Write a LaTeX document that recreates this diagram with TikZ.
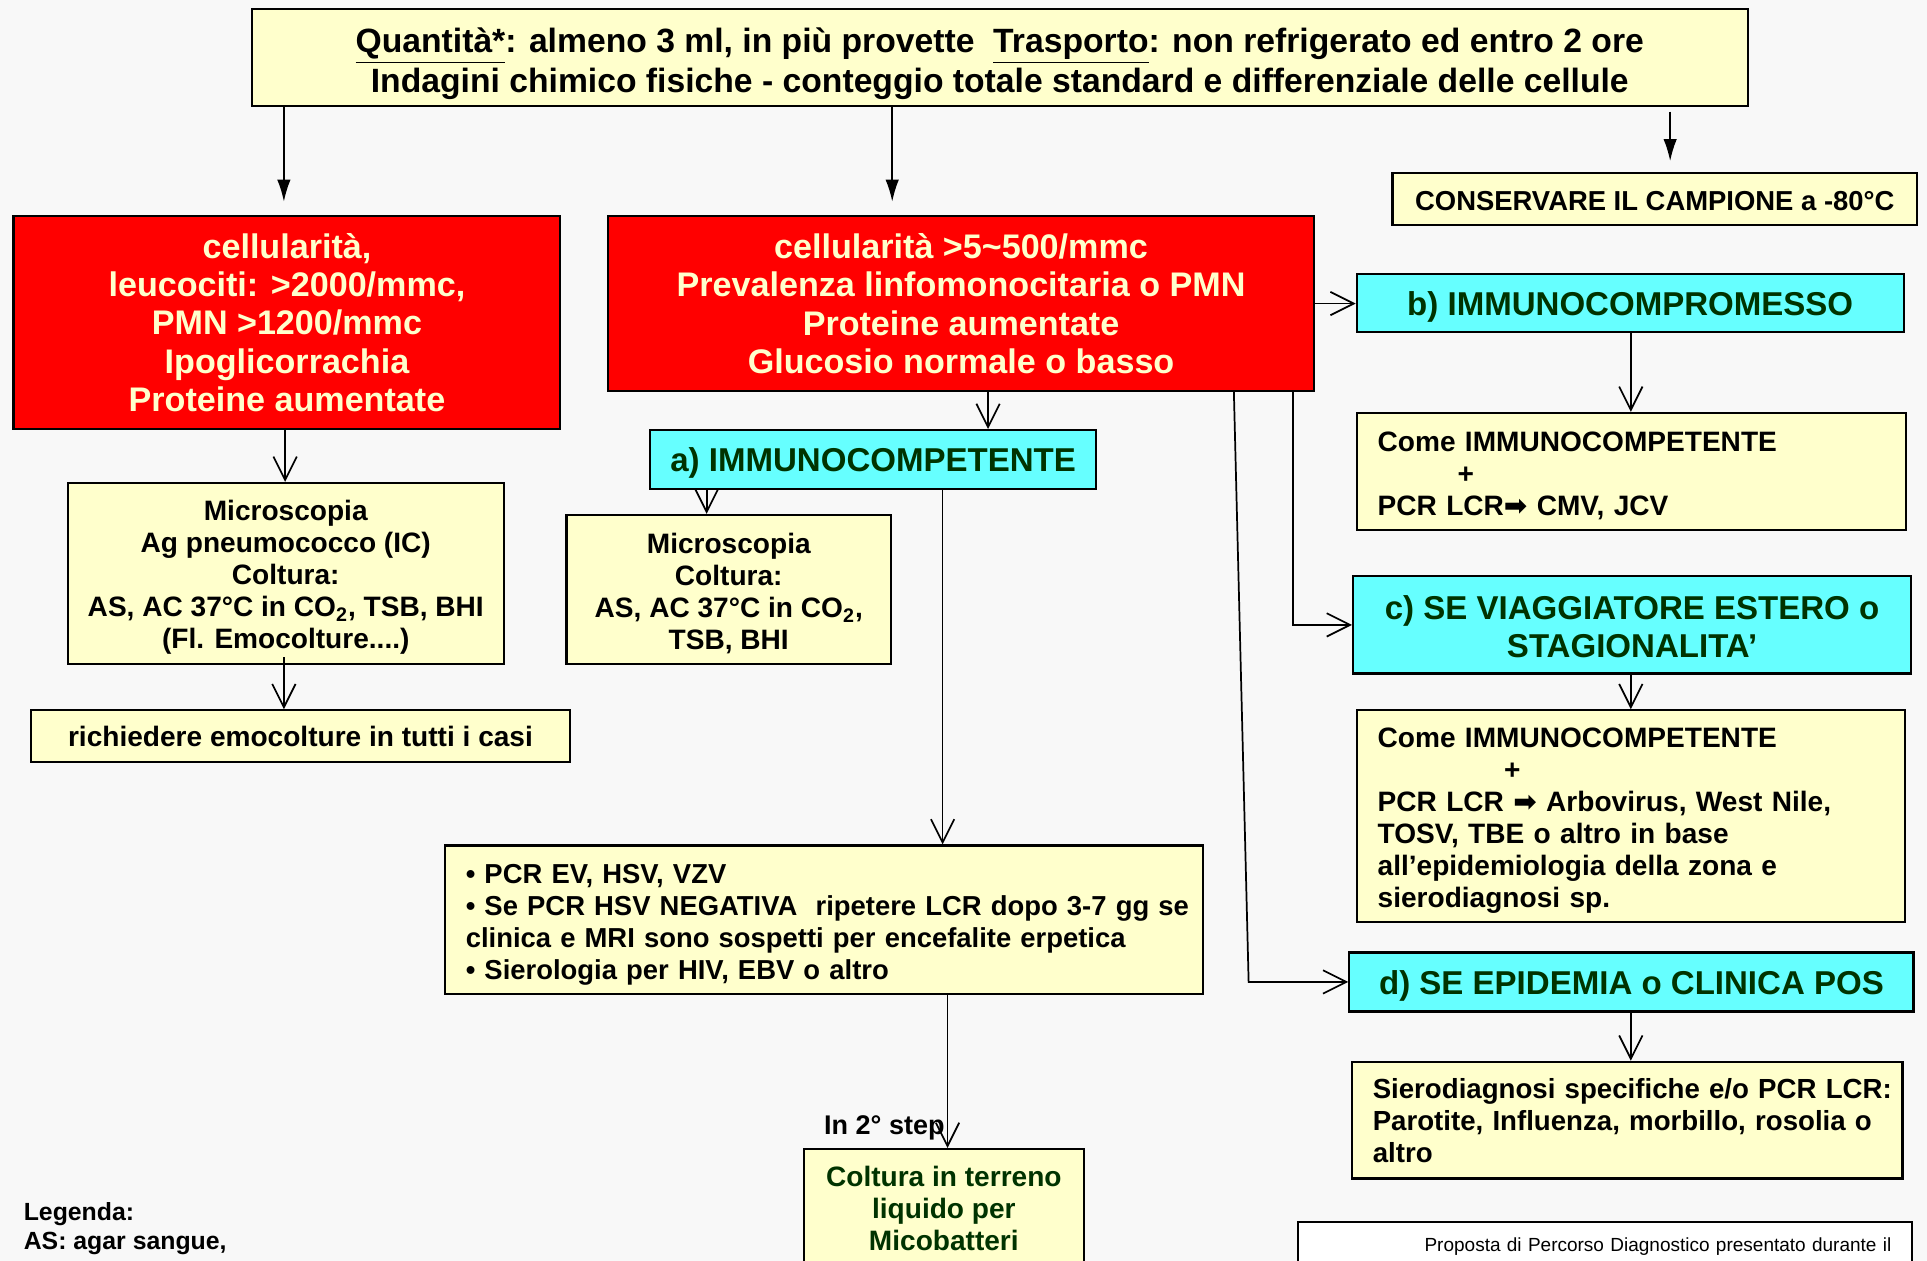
\documentclass[tikz,border=0pt]{standalone}
\usepackage{fontspec}
\setmainfont{Liberation Sans}
\newfontfamily\simboli{DejaVu Sans}
\usetikzlibrary{arrows.meta}

\definecolor{sfondo}{HTML}{F8F8F8}
\definecolor{giallino}{HTML}{FFFFCC}
\definecolor{rosso}{HTML}{FF0000}
\definecolor{ciano}{HTML}{66FFFF}
\definecolor{verdescuro}{HTML}{003300}

\newcommand{\Freccina}{{\simboli\bfseries ➡}}

\newcommand{\Casella}[7]{% nome,x1,y1,x2,y2,stile,testo (centrato)
    \pgfmathsetmacro{\largh}{(#4-#2)*0.02}
    \pgfmathsetmacro{\alt}{(#5-#3)*0.02}
    \node[minimum width=\largh cm,minimum height=\alt cm,align=center,#6] (#1) at ({(#2+#4)/2},{(#3+#5)/2}) {#7}
}
\newcommand{\CasellaSx}[7]{% nome,x1,y1,x2,y2,stile,testo (a sinistra)
    \pgfmathsetmacro{\largh}{(#4-#2)*0.02}
    \pgfmathsetmacro{\alt}{(#5-#3)*0.02}
    \pgfmathsetmacro{\testo}{(#4-#2)*0.02-0.68}
    \node[minimum width=\largh cm,minimum height=\alt cm,inner xsep=0.34cm,text width=\testo cm,align=left,#6] (#1) at ({(#2+#4)/2},{(#3+#5)/2}) {#7}
}

\tikzset{
    casella/.style={draw=black,line width=1pt,inner ysep=0pt},
    casellagialla/.style={casella,fill=giallino,font=\fontsize{13}{14.8}\selectfont\bfseries},
    casellarossa/.style={casella,fill=rosso,text=giallino,font=\fontsize{15.8}{17.8}\selectfont\bfseries},
    casellaciano/.style={casella,fill=ciano,text=verdescuro,font=\fontsize{15.3}{17.6}\selectfont\bfseries},
    casellanota/.style={casella,fill=white,font=\fontsize{8.8}{10}\selectfont},
    abbassa/.style={execute at begin node={\rule{0pt}{#1}}},
    testolegenda/.style={align=left,inner sep=0pt,font=\fontsize{11.5}{13.7}\selectfont\bfseries},
    freccia/.style={line width=0.8pt,-{Latex[length=0.36cm,width=0.22cm]}},
    aperta/.style={line width=0.8pt,-{Straight Barb[length=0.38cm,width=0.38cm]}},
}

\begin{document}
\begin{tikzpicture}[x=0.02cm,y=-0.02cm]
        \useasboundingbox (0,0) rectangle (1568,1026);
        \clip (0,0) rectangle (1568,1026);
        \fill[sfondo] (0,0) rectangle (1568,1026);

        % riga in alto
        \Casella{top}{205}{7}{1422}{86}{casellagialla,font=\fontsize{15.6}{18.2}\selectfont\bfseries}{\rule{0pt}{17.5pt}\underline{Quantità*}: almeno 3 ml, in più provette\ \ \underline{Trasporto}: non refrigerato ed entro 2 ore\\Indagini chimico fisiche - conteggio totale standard e differenziale delle cellule};
        \Casella{conserva}{1133}{141}{1560}{183}{casellagialla,font=\fontsize{12.7}{14}\selectfont\bfseries,abbassa=11pt}{CONSERVARE IL CAMPIONE a -80°C};

        % ramo sinistro
        \Casella{rossoSx}{11}{176}{456}{349}{casellarossa}{cellularità,\\leucociti: >2000/mmc,\\PMN >1200/mmc\\Ipoglicorrachia\\Proteine aumentate};
        \Casella{micrSx}{55}{393}{410}{540}{casellagialla}{\rule{0pt}{13.3pt}Microscopia\\Ag pneumococco (IC)\\Coltura:\\AS, AC 37°C in CO\textsubscript{2}, TSB, BHI\\(Fl. Emocolture....)};
        \Casella{emoc}{25}{578}{464}{620}{casellagialla}{richiedere emocolture in tutti i casi};

        % ramo centrale
        \Casella{rossoC}{495}{176}{1069}{318}{casellarossa}{cellularità >5\textasciitilde500/mmc\\Prevalenza linfomonocitaria o PMN\\Proteine aumentate\\Glucosio normale o basso};
        \Casella{immA}{529}{350}{892}{398}{casellaciano,abbassa=14.5pt}{a) IMMUNOCOMPETENTE};
        \Casella{micrA}{461}{419}{725}{540}{casellagialla}{\rule{0pt}{13.3pt}Microscopia\\Coltura:\\AS, AC 37°C in CO\textsubscript{2},\\TSB, BHI};
        \CasellaSx{pcr}{362}{688}{979}{809}{casellagialla,font=\fontsize{12.7}{14.8}\selectfont\bfseries,abbassa=13.6pt}{• PCR EV, HSV, VZV\\\mbox{• Se PCR HSV NEGATIVA\ \ ripetere LCR dopo 3-7 gg se}\\\mbox{clinica e MRI sono sospetti per encefalite erpetica}\\• Sierologia per HIV, EBV o altro};
        \Casella{mico}{654}{935}{882}{1031}{casellagialla,text=verdescuro}{Coltura in terreno\\liquido per\\Micobatteri};

        % ramo destro
        \Casella{immB}{1104}{223}{1549}{270}{casellaciano,abbassa=14.5pt}{b) IMMUNOCOMPROMESSO};
        \CasellaSx{dettB}{1104}{336}{1551}{431}{casellagialla,abbassa=13.3pt}{Come IMMUNOCOMPETENTE\\\hspace*{1.3cm}+\\PCR LCR\Freccina{} CMV, JCV};
        \Casella{immC}{1101}{469}{1555}{548}{casellaciano}{\rule{0pt}{13pt}c) SE VIAGGIATORE ESTERO o\\STAGIONALITA’};
        \CasellaSx{dettC}{1104}{578}{1550}{750}{casellagialla,abbassa=13.6pt}{Come IMMUNOCOMPETENTE\\\hspace*{2.06cm}+\\\mbox{PCR LCR \Freccina{} Arbovirus, West Nile,}\\TOSV, TBE o altro in base\\all’epidemiologia della zona e\\sierodiagnosi sp.};
        \Casella{immD}{1098}{775}{1557}{823}{casellaciano,abbassa=14.5pt}{d) SE EPIDEMIA o CLINICA POS};
        \CasellaSx{dettD}{1100}{864}{1548}{959}{casellagialla,font=\fontsize{12.8}{14.8}\selectfont\bfseries}{\mbox{Sierodiagnosi specifiche e/o PCR LCR:}\\\mbox{Parotite, Influenza, morbillo, rosolia o}\\altro};

        % in basso
        \node[testolegenda,anchor=north west] (legenda) at (19,978) {Legenda:\\AS: agar sangue,};
        \CasellaSx{nota}{1056}{994}{1556}{1034}{casellanota,align=right}{Proposta di Percorso Diagnostico presentato durante il};

        % frecce
        \draw[freccia,shorten >=0.22cm] (top.south -| 231,0) -- (rossoSx.north -| 231,0);
        \draw[freccia,shorten >=0.22cm] (top.south -| 726,0) -- (rossoC.north -| 726,0);
        \draw[freccia,shorten <=0.08cm,shorten >=0.18cm] (top.south -| 1359,0) -- (conserva.north -| 1359,0);
        \draw[aperta] (rossoSx.south -| 232,0) -- (micrSx.north -| 232,0);
        \draw[aperta,shorten <=-0.12cm] (micrSx.south -| 231,0) -- (emoc.north -| 231,0);
        \draw[aperta] (rossoC.south -| 804,0) -- (immA.north -| 804,0);
        \draw[aperta] (immA.south -| 575,0) -- (micrA.north -| 575,0);
        \draw[aperta] (immA.south -| 767,0) -- (pcr.north -| 767,0);
        \draw[aperta] (pcr.south -| 771,0) -- node[pos=0.865,anchor=east,inner sep=1pt,font=\fontsize{12.5}{14}\selectfont\bfseries] (passo) {In 2° step} (mico.north -| 771,0);
        \draw[aperta] (rossoC.east) -- (rossoC.east -| immB.west);
        \draw[aperta] (immB.south -| 1327,0) -- (dettB.north -| 1327,0);
        \draw[aperta] (rossoC.south -| 1052,0) |- (immC.west);
        \draw[aperta] (immC.south -| 1327,0) -- (dettC.north -| 1327,0);
        \draw[aperta] (rossoC.south -| 1004,0) -- (immD.west -| 1016,0) -- (immD.west);
        \draw[aperta] (immD.south -| 1327,0) -- (dettD.north -| 1327,0);
\end{tikzpicture}
\end{document}
